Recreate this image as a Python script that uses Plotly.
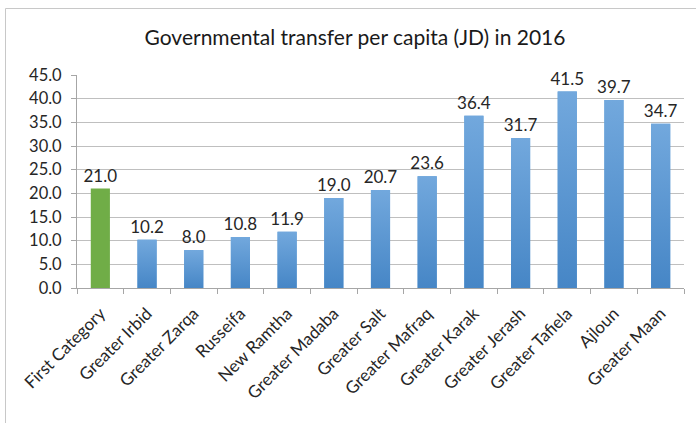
import plotly.graph_objects as go

categories = ["First Category", "Greater Irbid", "Greater Zarqa", "Russeifa", "New Ramtha",
              "Greater Madaba", "Greater Salt", "Greater Mafraq", "Greater Karak", "Greater Jerash",
              "Greater Tafiela", "Ajloun", "Greater Maan"]
values = [21.0, 10.2, 8.0, 10.8, 11.9, 19.0, 20.7, 23.6, 36.4, 31.7, 41.5, 39.7, 34.7]
colors = ["#70AD47"] + ["#5B9BD5"] * 12
y_ticks = [0, 5, 10, 15, 20, 25, 30, 35, 40, 45]

FONT = "Lato, 'Open Sans', sans-serif"
BAR_W = 0.41
BLUE_TOP, BLUE_BOTTOM = "#72A8DD", "#4686C6"

fig = go.Figure(go.Bar(
    x=categories, y=values,
    width=BAR_W,
    marker=dict(color=colors, line=dict(width=0)),
    text=[f"{v:.1f}" for v in values],
    textposition="outside",
    constraintext="none",
    textfont=dict(size=17, color="#262626", family=FONT),
    cliponaxis=False,
))

# gradient overlay for the blue bars (Excel-style vertical gradient), on a hidden numeric x axis
for i, v in enumerate(values):
    if colors[i] != "#5B9BD5":
        continue
    x0, x1 = i - BAR_W / 2, i + BAR_W / 2
    fig.add_trace(go.Scatter(
        x=[x0, x1, x1, x0, x0], y=[0, 0, v, v, 0],
        xaxis="x2", mode="lines", line=dict(width=0), fill="toself",
        fillgradient=dict(type="vertical", colorscale=[[0, BLUE_BOTTOM], [1, BLUE_TOP]]),
        hoverinfo="skip", showlegend=False,
    ))

W, H = 696, 423
L, R, T, B = 77, 696 - 684, 75, 423 - 288
pw, ph = W - L - R, H - T - B

def px_x(p):
    return (p - L) / pw

def px_y(p):
    return (H - B - p) / ph

BORDER = dict(color="#C8C8C8", width=1)

fig.update_layout(
    width=W, height=H,
    margin=dict(l=L, r=R, t=T, b=B, autoexpand=False),
    paper_bgcolor="white", plot_bgcolor="white",
    showlegend=False,
    font=dict(family=FONT, color="#262626"),
    title=dict(text="Governmental transfer per capita (JD) in 2016",
               x=355 / W, xref="container", xanchor="center",
               y=1 - 38 / H, yref="container", yanchor="middle",
               font=dict(size=21, color="#1a1a1a", family=FONT)),
    xaxis=dict(showline=True, linecolor="#A6A6A6", linewidth=1,
               ticks="outside", tickson="boundaries", ticklen=5, tickcolor="#A6A6A6",
               tickangle=-45, ticklabelstandoff=8,
               tickfont=dict(size=17, color="#262626"), automargin=False),
    xaxis2=dict(overlaying="x", range=[-0.5, len(categories) - 0.5], visible=False),
    yaxis=dict(range=[0, 45], tickvals=y_ticks, ticktext=[f"{v:.1f}" for v in y_ticks],
               showgrid=True, gridcolor="#BFBFBF", gridwidth=1,
               showline=True, linecolor="#A6A6A6", linewidth=1,
               ticks="outside", ticklen=5, tickcolor="#A6A6A6", ticklabelstandoff=6,
               tickfont=dict(size=16.5, color="#262626"), zeroline=False, automargin=False),
    shapes=[
        dict(type="line", xref="paper", yref="paper",
             x0=px_x(5.5), x1=px_x(700), y0=px_y(8.5), y1=px_y(8.5), line=BORDER),
        dict(type="line", xref="paper", yref="paper",
             x0=px_x(5.5), x1=px_x(5.5), y0=px_y(8.5), y1=px_y(430), line=BORDER),
    ],
)

fig.write_html("out.html", config={"displayModeBar": False},
               post_script="document.body.style.margin='0px';")
